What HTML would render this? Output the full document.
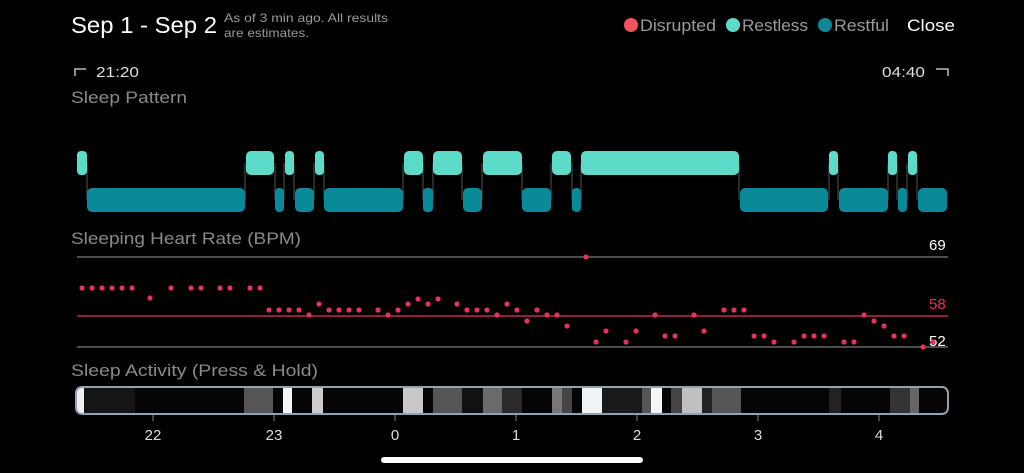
<!DOCTYPE html>
<html><head><meta charset="utf-8"><style>
html,body{margin:0;padding:0;background:#000;width:1024px;height:473px;overflow:hidden}
svg{display:block}
text{font-family:"Liberation Sans",sans-serif}
</style></head><body>
<svg width="1024" height="473" viewBox="0 0 1024 473">
<rect width="1024" height="473" fill="#000"/>
<text x="71" y="33" fill="#fff" font-size="23" textLength="146" lengthAdjust="spacingAndGlyphs">Sep 1 - Sep 2</text>
<text x="224" y="22" fill="#9a9a9a" font-size="12" textLength="164" lengthAdjust="spacingAndGlyphs">As of 3 min ago. All results</text>
<text x="224" y="37" fill="#9a9a9a" font-size="12" textLength="85" lengthAdjust="spacingAndGlyphs">are estimates.</text>
<circle cx="631" cy="25" r="7" fill="#f2545b"/>
<text x="640" y="31" fill="#9a9a9a" font-size="17" textLength="76" lengthAdjust="spacingAndGlyphs">Disrupted</text>
<circle cx="733" cy="25" r="7" fill="#5cdcc8"/>
<text x="742" y="31" fill="#9a9a9a" font-size="17" textLength="66" lengthAdjust="spacingAndGlyphs">Restless</text>
<circle cx="825" cy="25" r="7" fill="#0a8a98"/>
<text x="834" y="31" fill="#9a9a9a" font-size="17" textLength="55" lengthAdjust="spacingAndGlyphs">Restful</text>
<text x="907" y="31" fill="#fff" font-size="17" textLength="48" lengthAdjust="spacingAndGlyphs">Close</text>
<path d="M75 76 V69 H86" stroke="#bbb" stroke-width="1.5" fill="none"/>
<text x="96" y="77" fill="#ddd" font-size="15" textLength="43" lengthAdjust="spacingAndGlyphs">21:20</text>
<text x="882" y="77" fill="#ddd" font-size="15" textLength="43" lengthAdjust="spacingAndGlyphs">04:40</text>
<path d="M936 69 H948 V76" stroke="#bbb" stroke-width="1.5" fill="none"/>
<text x="71" y="103" fill="#8a8a8a" font-size="17" textLength="116" lengthAdjust="spacingAndGlyphs">Sleep Pattern</text>
<g stroke="#555" stroke-width="1">
<path d="M87 163V200M245 163V200M275 163V200M284 163V200M294 163V200M314 163V200M324 163V200M403 163V200M423 163V200M433 163V200M462 163V200M482 163V200M522 163V200M551 163V200M572 163V200M581 163V200M739 163V200M829 163V200M838 163V200M888 163V200M897 163V200M907 163V200M917 163V200"/>
</g>
<g fill="#5cdcc8">
<rect x="77" y="151" width="10" height="24" rx="4"/>
<rect x="246" y="151" width="28" height="24" rx="5"/>
<rect x="285" y="151" width="9" height="24" rx="4"/>
<rect x="315" y="151" width="9" height="24" rx="4"/>
<rect x="404" y="151" width="19" height="24" rx="5"/>
<rect x="433" y="151" width="29" height="24" rx="5"/>
<rect x="483" y="151" width="39" height="24" rx="5"/>
<rect x="552" y="151" width="19" height="24" rx="5"/>
<rect x="581" y="151" width="158" height="24" rx="5"/>
<rect x="829" y="151" width="9" height="24" rx="4"/>
<rect x="888" y="151" width="9" height="24" rx="4"/>
<rect x="908" y="151" width="9" height="24" rx="4"/>
</g>
<g fill="#0a8a98">
<rect x="87" y="188" width="158" height="24" rx="5"/>
<rect x="275" y="188" width="9" height="24" rx="4"/>
<rect x="295" y="188" width="19" height="24" rx="5"/>
<rect x="324" y="188" width="79" height="24" rx="5"/>
<rect x="423" y="188" width="10" height="24" rx="4"/>
<rect x="463" y="188" width="19" height="24" rx="5"/>
<rect x="522" y="188" width="29" height="24" rx="5"/>
<rect x="572" y="188" width="9" height="24" rx="4"/>
<rect x="740" y="188" width="88" height="24" rx="5"/>
<rect x="839" y="188" width="49" height="24" rx="5"/>
<rect x="898" y="188" width="9" height="24" rx="4"/>
<rect x="918" y="188" width="29" height="24" rx="5"/>
</g>
<text x="71" y="244" fill="#8a8a8a" font-size="17" textLength="230" lengthAdjust="spacingAndGlyphs">Sleeping Heart Rate (BPM)</text>
<text x="929" y="250" fill="#fff" font-size="15">69</text>
<line x1="77" y1="257" x2="948" y2="257" stroke="#666" stroke-width="1.5"/>
<text x="929" y="309" fill="#e8325a" font-size="15">58</text>
<line x1="77" y1="316" x2="948" y2="316" stroke="#e8325a" stroke-width="1.2"/>
<text x="929" y="346" fill="#fff" font-size="15">52</text>
<line x1="77" y1="347" x2="948" y2="347" stroke="#666" stroke-width="1.5"/>
<g fill="#e8325a">
<circle cx="82" cy="288" r="2.6"/><circle cx="92" cy="288" r="2.6"/><circle cx="102" cy="288" r="2.6"/><circle cx="112" cy="288" r="2.6"/><circle cx="122" cy="288" r="2.6"/><circle cx="132" cy="288" r="2.6"/>
<circle cx="150" cy="298" r="2.6"/><circle cx="171" cy="288" r="2.6"/><circle cx="191" cy="288" r="2.6"/><circle cx="201" cy="288" r="2.6"/><circle cx="220" cy="288" r="2.6"/><circle cx="230" cy="288" r="2.6"/><circle cx="250" cy="288" r="2.6"/><circle cx="260" cy="288" r="2.6"/>
<circle cx="269" cy="310" r="2.6"/><circle cx="279" cy="310" r="2.6"/><circle cx="289" cy="310" r="2.6"/><circle cx="299" cy="310" r="2.6"/><circle cx="309" cy="315" r="2.6"/><circle cx="319" cy="304" r="2.6"/><circle cx="329" cy="310" r="2.6"/><circle cx="339" cy="310" r="2.6"/><circle cx="349" cy="310" r="2.6"/><circle cx="359" cy="310" r="2.6"/>
<circle cx="378" cy="310" r="2.6"/><circle cx="388" cy="315" r="2.6"/><circle cx="398" cy="310" r="2.6"/><circle cx="408" cy="304" r="2.6"/><circle cx="418" cy="299" r="2.6"/><circle cx="428" cy="304" r="2.6"/><circle cx="438" cy="299" r="2.6"/>
<circle cx="457" cy="304" r="2.6"/><circle cx="467" cy="310" r="2.6"/><circle cx="477" cy="310" r="2.6"/><circle cx="487" cy="310" r="2.6"/><circle cx="497" cy="315" r="2.6"/><circle cx="507" cy="304" r="2.6"/><circle cx="517" cy="310" r="2.6"/><circle cx="527" cy="321" r="2.6"/><circle cx="537" cy="310" r="2.6"/><circle cx="547" cy="315" r="2.6"/><circle cx="557" cy="315" r="2.6"/><circle cx="567" cy="326" r="2.6"/>
<circle cx="586" cy="257" r="2.6"/><circle cx="596" cy="342" r="2.6"/><circle cx="606" cy="331" r="2.6"/><circle cx="626" cy="342" r="2.6"/><circle cx="636" cy="331" r="2.6"/><circle cx="655" cy="315" r="2.6"/><circle cx="665" cy="336" r="2.6"/><circle cx="675" cy="336" r="2.6"/><circle cx="694" cy="315" r="2.6"/><circle cx="704" cy="331" r="2.6"/>
<circle cx="724" cy="310" r="2.6"/><circle cx="734" cy="310" r="2.6"/><circle cx="744" cy="310" r="2.6"/><circle cx="754" cy="336" r="2.6"/><circle cx="764" cy="336" r="2.6"/><circle cx="774" cy="342" r="2.6"/><circle cx="794" cy="342" r="2.6"/><circle cx="804" cy="336" r="2.6"/><circle cx="814" cy="336" r="2.6"/><circle cx="824" cy="336" r="2.6"/>
<circle cx="844" cy="342" r="2.6"/><circle cx="854" cy="342" r="2.6"/><circle cx="864" cy="315" r="2.6"/><circle cx="874" cy="321" r="2.6"/><circle cx="884" cy="326" r="2.6"/><circle cx="894" cy="336" r="2.6"/><circle cx="904" cy="336" r="2.6"/><circle cx="923" cy="347" r="2.6"/><circle cx="933" cy="342" r="2.6"/>
</g>
<text x="71" y="376" fill="#8a8a8a" font-size="17" textLength="247" lengthAdjust="spacingAndGlyphs">Sleep Activity (Press &amp; Hold)</text>
<clipPath id="cb"><rect x="76" y="387" width="872" height="27" rx="6"/></clipPath>
<g clip-path="url(#cb)">
<rect x="76" y="387" width="872" height="27" fill="#050505"/>
<rect x="76" y="387" width="8" height="27" fill="#eef3f2"/>
<rect x="84" y="387" width="51" height="27" fill="#151515"/>
<rect x="244" y="387" width="29" height="27" fill="#555"/>
<rect x="283" y="387" width="9" height="27" fill="#f2f6f5"/>
<rect x="312" y="387" width="11" height="27" fill="#ccc"/>
<rect x="403" y="387" width="20" height="27" fill="#c8c8c8"/>
<rect x="433" y="387" width="29" height="27" fill="#555"/>
<rect x="462" y="387" width="21" height="27" fill="#111"/>
<rect x="483" y="387" width="19" height="27" fill="#6a6a6a"/>
<rect x="502" y="387" width="20" height="27" fill="#2a2a2a"/>
<rect x="552" y="387" width="10" height="27" fill="#777"/>
<rect x="562" y="387" width="10" height="27" fill="#444"/>
<rect x="582" y="387" width="20" height="27" fill="#eef5f4"/>
<rect x="602" y="387" width="40" height="27" fill="#1a1a1a"/>
<rect x="642" y="387" width="9" height="27" fill="#555"/>
<rect x="651" y="387" width="11" height="27" fill="#f2f6f5"/>
<rect x="671" y="387" width="11" height="27" fill="#444"/>
<rect x="682" y="387" width="20" height="27" fill="#c0c0c0"/>
<rect x="702" y="387" width="10" height="27" fill="#222"/>
<rect x="712" y="387" width="29" height="27" fill="#555"/>
<rect x="829" y="387" width="12" height="27" fill="#222"/>
<rect x="890" y="387" width="20" height="27" fill="#333"/>
<rect x="910" y="387" width="9" height="27" fill="#666"/>
</g>
<rect x="76" y="387" width="872" height="27" rx="6" fill="none" stroke="#8fa3b0" stroke-width="2"/>
<g stroke="#888" stroke-width="1"><path d="M153 415V421M274 415V421M395 415V421M516 415V421M637 415V421M758 415V421M879 415V421"/></g>
<g fill="#ddd" font-size="15" text-anchor="middle">
<text x="153" y="440">22</text><text x="274" y="440">23</text><text x="395" y="440">0</text><text x="516" y="440">1</text><text x="637" y="440">2</text><text x="758" y="440">3</text><text x="879" y="440">4</text>
</g>
<rect x="381" y="457" width="262" height="6" rx="3" fill="#fff"/>
</svg>
</body></html>
